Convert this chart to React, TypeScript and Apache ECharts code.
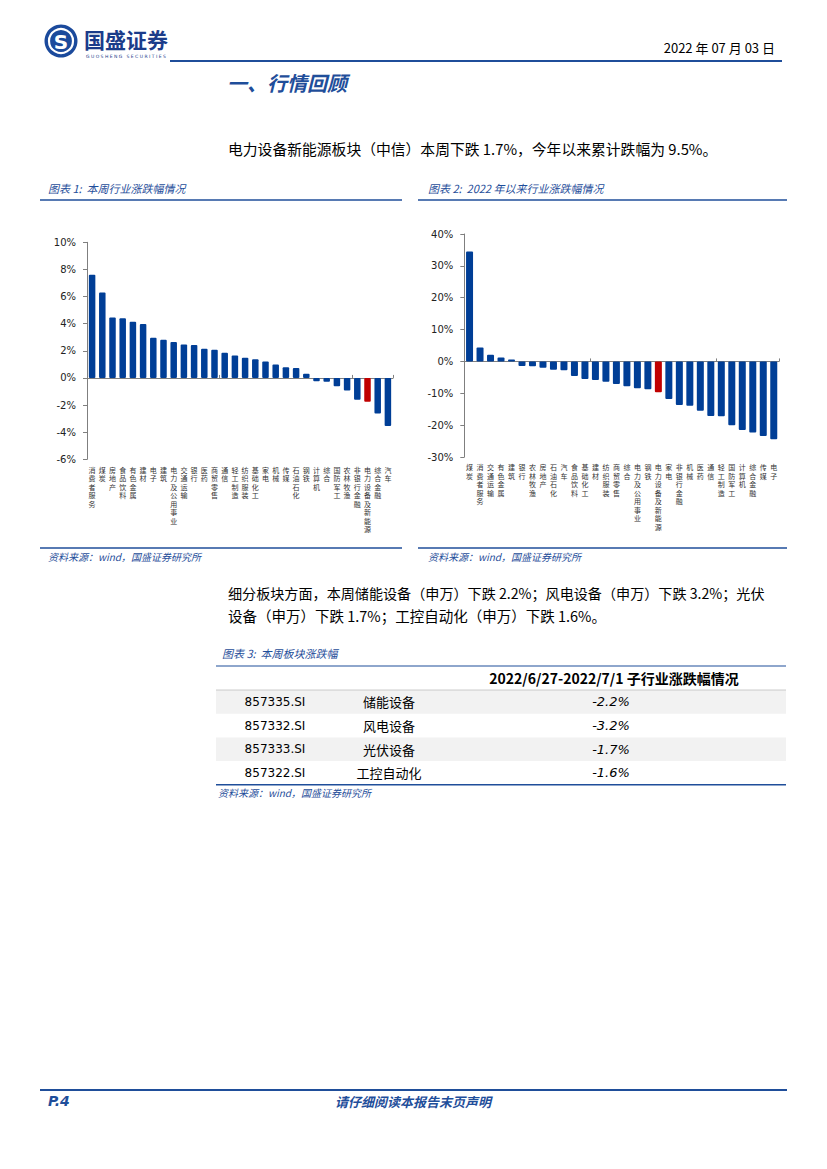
import React, { useEffect, useRef } from "react";
import * as echarts from "echarts";

// ---------- data ----------
const weekCategories = [
  "消费者服务", "煤炭", "房地产", "食品饮料", "有色金属", "建材", "电子", "建筑",
  "电力及公用事业", "交通运输", "银行", "医药", "商贸零售", "通信", "轻工制造",
  "纺织服装", "基础化工", "家电", "机械", "传媒", "石油石化", "钢铁", "计算机",
  "综合", "国防军工", "农林牧渔", "非银行金融", "电力设备及新能源", "综合金融", "汽车",
];
const weekValues = [
  7.6, 6.3, 4.45, 4.4, 4.15, 3.98, 2.96, 2.81, 2.64, 2.47, 2.42, 2.15, 2.07, 1.85, 1.65,
  1.48, 1.38, 1.21, 0.99, 0.79, 0.74, 0.3, -0.25, -0.28, -0.61, -0.93, -1.6, -1.75, -2.62, -3.55,
];
const ytdCategories = [
  "煤炭", "消费者服务", "交通运输", "有色金属", "建筑", "银行", "农林牧渔", "房地产",
  "石油石化", "汽车", "食品饮料", "基础化工", "建材", "纺织服装", "商贸零售", "综合",
  "电力及公用事业", "钢铁", "电力设备及新能源", "家电", "非银行金融", "机械", "医药",
  "通信", "轻工制造", "国防军工", "计算机", "综合金融", "传媒", "电子",
];
const ytdValues = [
  34.5, 4.4, 2.1, 1.25, 0.6, -1.45, -1.5, -2.0, -2.6, -2.8, -4.6, -5.5, -5.8, -6.35, -7.1,
  -7.8, -8.4, -8.75, -9.7, -11.8, -13.65, -13.9, -15.5, -17.1, -17.2, -20.0, -21.5, -22.3, -23.4, -24.4,
];
const highlight = "电力设备及新能源";
const weekAxis = { min: -6, max: 10, interval: 2 };
const ytdAxis = { min: -30, max: 40, interval: 10 };
const tickSuffix = "%";

const tableHeader = "2022/6/27-2022/7/1 子行业涨跌幅情况";
const tableCodes = ["857335.SI", "857332.SI", "857333.SI", "857322.SI"];
const tableNames = ["储能设备", "风电设备", "光伏设备", "工控自动化"];
const tableValues = ["-2.2%", "-3.2%", "-1.7%", "-1.6%"];

// ---------- styles ----------
const BAR_BLUE = "#003E96";
const BAR_RED = "#C00000";
const NAVY = "#1F4E9A";
const CJK = "'Noto Sans CJK SC', 'Noto Sans', sans-serif";
const LATIN = "'DejaVu Sans', Verdana, sans-serif";
const AXIS_GRAY = "#7F7F7F";

function txt(
  text: string,
  x: number,
  y: number,
  opt: { size?: number; color?: string; weight?: string; italic?: boolean; align?: string; family?: string } = {}
) {
  return {
    type: "text",
    x,
    y,
    silent: true,
    style: {
      text,
      fontSize: opt.size ?? 13,
      fontFamily: opt.family ?? CJK,
      fontWeight: opt.weight ?? "normal",
      fontStyle: opt.italic ? "italic" : "normal",
      fill: opt.color ?? "#000",
      textAlign: opt.align ?? "left",
      textVerticalAlign: "middle",
    },
  };
}

function hline(x1: number, x2: number, y: number, color: string, w: number) {
  return { type: "line", silent: true, shape: { x1, y1: y, x2, y2: y }, style: { stroke: color, lineWidth: w } };
}

function barData(cats: string[], vals: number[]) {
  return vals.map((v, i) => ({
    value: v,
    itemStyle: { color: cats[i] === highlight ? BAR_RED : BAR_BLUE },
  }));
}

const verticalLabel = (v: string) => v.split("").join("\n");

function xAxesFor(gridIndex: number, cats: string[]) {
  return [
    {
      gridIndex,
      type: "category",
      data: cats,
      position: "bottom",
      axisLine: { show: true, onZero: true, lineStyle: { color: AXIS_GRAY, width: 1 } },
      axisTick: { show: true, inside: true, length: 3, lineStyle: { color: AXIS_GRAY } },
      axisLabel: { show: false },
    },
    {
      gridIndex,
      type: "category",
      data: cats,
      position: "bottom",
      axisLine: { show: false, onZero: false },
      axisTick: { show: false },
      axisLabel: {
        interval: 0,
        formatter: verticalLabel,
        fontSize: 7,
        lineHeight: 8.5,
        color: "#333",
        margin: 6,
        fontFamily: CJK,
      },
    },
  ];
}

function yAxisFor(gridIndex: number, ax: { min: number; max: number; interval: number }) {
  return {
    gridIndex,
    type: "value",
    min: ax.min,
    max: ax.max,
    interval: ax.interval,
    axisLine: { show: true, lineStyle: { color: AXIS_GRAY } },
    axisTick: { show: true, length: 4, lineStyle: { color: AXIS_GRAY } },
    splitLine: { show: false },
    axisLabel: {
      formatter: (v: number) => `${v}${tickSuffix}`,
      fontSize: 10,
      fontFamily: LATIN,
      color: "#222",
      margin: 11,
    },
  };
}

export default function App() {
  const ref = useRef<HTMLDivElement>(null);

  useEffect(() => {
    if (!ref.current) return;
    const chart = echarts.init(ref.current, undefined, { renderer: "svg" });

    const graphics: any[] = [];
    // logo
    graphics.push({ type: "circle", silent: true, shape: { cx: 61, cy: 41, r: 16.5 }, style: { fill: "#1B4A9C" } });
    graphics.push({ type: "circle", silent: true, shape: { cx: 61, cy: 41, r: 12 }, style: { fill: "none", stroke: "#fff", lineWidth: 2.2 } });
    graphics.push(txt("S", 61, 42, { size: 20, color: "#fff", weight: "bold", align: "center", family: "'DejaVu Sans', sans-serif" }));
    graphics.push(txt("国盛证券", 84, 39, { size: 21, color: "#1B3C8A", weight: "bold" }));
    graphics.push(txt("G U O S H E N G   S E C U R I T I E S", 86, 56, { size: 4.5, color: "#1B3C8A", family: LATIN }));
    // header
    graphics.push(hline(170, 782, 61, "#1F4E9A", 1.8));
    graphics.push(txt("2022 年 07 月 03 日", 775, 47, { size: 13, color: "#000", align: "right" }));
    graphics.push(txt("一、行情回顾", 227, 82, { size: 20, color: NAVY, weight: "bold", italic: true }));
    graphics.push(txt("电力设备新能源板块（中信）本周下跌 1.7%，今年以来累计跌幅为 9.5%。", 228, 148, { size: 14.8 }));

    // chart captions
    graphics.push(txt("图表 1:  本周行业涨跌幅情况", 48, 188, { size: 11, color: NAVY, italic: true }));
    graphics.push(txt("图表 2:  2022 年以来行业涨跌幅情况", 428, 188, { size: 11, color: NAVY, italic: true }));
    graphics.push(hline(40, 402, 200, NAVY, 1.5));
    graphics.push(hline(418, 787, 200, NAVY, 1.5));
    graphics.push(hline(40, 402, 548, NAVY, 1.5));
    graphics.push(hline(418, 787, 548, NAVY, 1.5));
    graphics.push(txt("资料来源：wind，国盛证券研究所", 48, 556, { size: 10, color: NAVY, italic: true }));
    graphics.push(txt("资料来源：wind，国盛证券研究所", 428, 556, { size: 10, color: NAVY, italic: true }));

    // paragraph 2
    graphics.push(txt("细分板块方面，本周储能设备（申万）下跌 2.2%；风电设备（申万）下跌 3.2%；光伏", 228, 593, { size: 14.1 }));
    graphics.push(txt("设备（申万）下跌 1.7%；工控自动化（申万）下跌 1.6%。", 228, 615, { size: 14.5 }));

    // table
    graphics.push(txt("图表 3:  本周板块涨跌幅", 222, 653, { size: 11, color: NAVY, italic: true }));
    const rowTop = 690;
    const rowH = 23.7;
    tableCodes.forEach((_, i) => {
      if (i % 2 === 0) {
        graphics.push({
          type: "rect",
          silent: true,
          shape: { x: 216, y: rowTop + i * rowH, width: 570, height: rowH },
          style: { fill: "#F2F2F2" },
        });
      }
    });
    graphics.push(hline(216, 786, 666, NAVY, 1.2));
    graphics.push(hline(216, 786, rowTop, "#BFBFBF", 0.8));
    graphics.push(hline(216, 786, rowTop + 4 * rowH, NAVY, 1.5));
    graphics.push(txt(tableHeader, 614, 678, { size: 14, weight: "bold", align: "center" }));
    tableCodes.forEach((code, i) => {
      const y = rowTop + i * rowH + rowH / 2;
      graphics.push(txt(code, 275, y, { size: 12, align: "center", family: LATIN }));
      graphics.push(txt(tableNames[i], 389, y, { size: 13, align: "center" }));
      graphics.push(txt(tableValues[i], 611, y, { size: 13, align: "center", italic: true, family: LATIN }));
    });
    graphics.push(txt("资料来源：wind，国盛证券研究所", 218, 792, { size: 10, color: NAVY, italic: true }));

    // footer
    graphics.push(hline(40, 787, 1090, "#1F4E9A", 2));
    graphics.push(txt("P.4", 48, 1101, { size: 14, color: NAVY, weight: "bold", italic: true, family: LATIN }));
    graphics.push(txt("请仔细阅读本报告末页声明", 413, 1101, { size: 13, color: NAVY, weight: "bold", italic: true, align: "center" }));

    chart.setOption({
      animation: false,
      backgroundColor: "#fff",
      grid: [
        { left: 87, top: 242.3, width: 306, height: 217, outerBoundsMode: "none", containLabel: false },
        { left: 464.3, top: 234, width: 314.7, height: 223, outerBoundsMode: "none", containLabel: false },
      ],
      xAxis: [...xAxesFor(0, weekCategories), ...xAxesFor(1, ytdCategories)],
      yAxis: [yAxisFor(0, weekAxis), yAxisFor(1, ytdAxis)],
      series: [
        {
          type: "bar",
          xAxisIndex: 0,
          yAxisIndex: 0,
          data: barData(weekCategories, weekValues),
          barWidth: 6.5,
          itemStyle: { borderRadius: 1 },
        },
        {
          type: "bar",
          xAxisIndex: 2,
          yAxisIndex: 1,
          data: barData(ytdCategories, ytdValues),
          barWidth: 7,
          itemStyle: { borderRadius: 1 },
        },
      ],
      graphic: { elements: graphics },
    });

    return () => chart.dispose();
  }, []);

  return (
    <div
      ref={ref}
      style={{ position: "absolute", left: 0, top: 0, width: 827, height: 1169, background: "#fff" }}
    />
  );
}
